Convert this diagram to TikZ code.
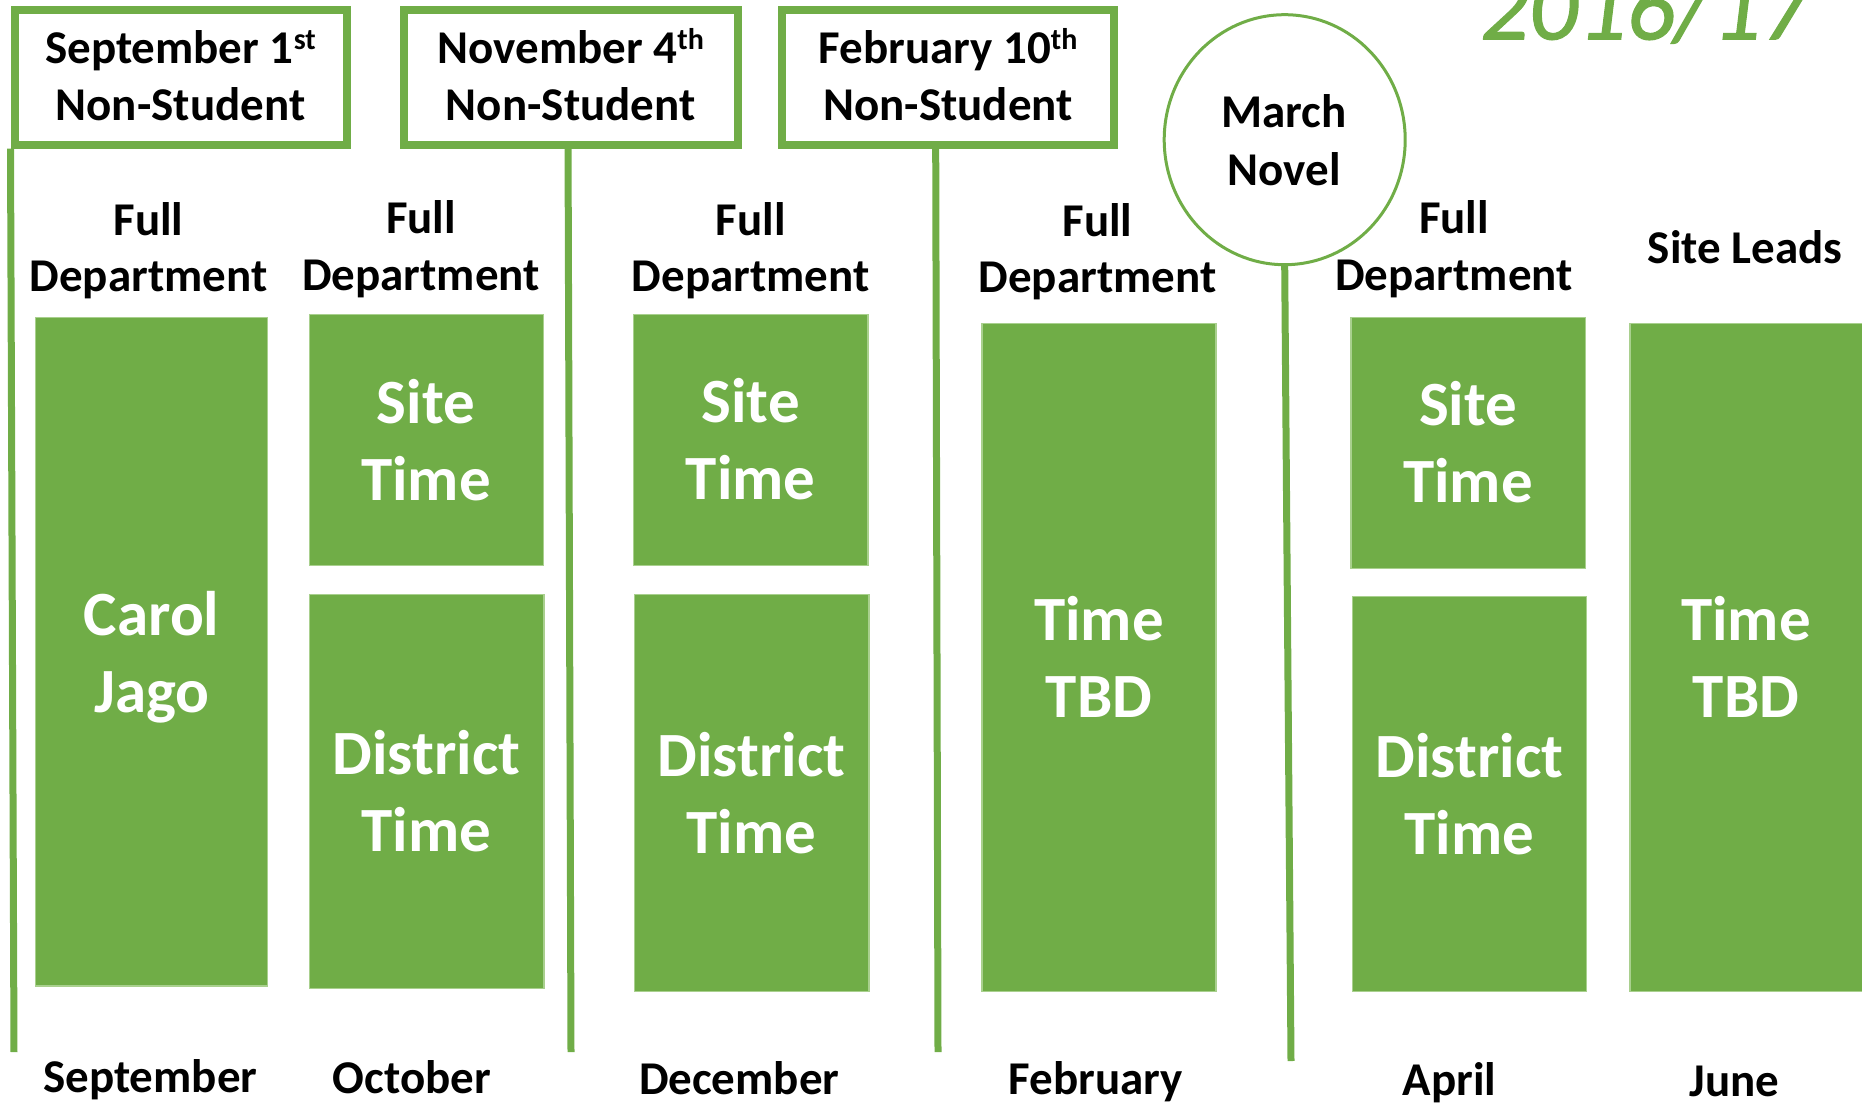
\documentclass[tikz,border=0pt]{standalone}
\usepackage{fontspec}
\setmainfont{Carlito}
\newfontfamily\yearfont{Carlito}[FakeBold=1.2]
\usetikzlibrary{shapes.geometric,calc}
\definecolor{grn}{HTML}{70AD47}
\definecolor{grnedge}{HTML}{A9D08E}
\newcommand{\sups}[1]{\raisebox{14pt}{\fontsize{30}{30}\selectfont #1}}
\begin{document}
\begin{tikzpicture}[x=1pt,y=-1pt,
  lbl/.style={inner sep=0pt, anchor=base, align=center, text=black,
    font=\fontsize{47}{56.7}\selectfont\bfseries},
  big/.style={inner sep=0pt, anchor=base, align=center, text=white,
    font=\fontsize{63}{77}\selectfont\bfseries},
  slot/.style={rectangle, fill=grn, draw=grnedge, line width=1.2pt, inner sep=0pt},
  datebox/.style={rectangle, draw=grn, line width=8pt, inner sep=0pt,
    minimum height=135pt},
  vline/.style={draw=grn, line width=7pt}
]
\useasboundingbox (0,0) rectangle (1862,1103);

% year title
\node[inner sep=0pt, anchor=base, text=grn,
  font=\yearfont\fontsize{96}{96}\selectfont\itshape] (year) at (1645,39.3) {2016/17};

% date boxes
\node[datebox, minimum width=332pt] (b1) at (180.5,77) {};
\node[datebox, minimum width=334.5pt] (b2) at (570.75,77) {};
\node[datebox, minimum width=332.5pt] (b3) at (948,77) {};
% (base anchor = baseline of the last line)
\node[lbl] (b1t) at (180.5,120) {September 1\sups{st}\\Non-Student};
\node[lbl] (b2t) at (570.75,120) {November 4\sups{th}\\Non-Student};
\node[lbl] (b3t) at (948,120) {February 10\sups{th}\\Non-Student};

% March circle
\node[ellipse, draw=grn, line width=3pt, inner sep=0pt,
  minimum width=241pt, minimum height=250pt] (mar) at (1284.7,139.7) {};
\node[lbl, font=\fontsize{47}{58}\selectfont\bfseries] (mart) at (1284,185) {March\\Novel};

% vertical lines
\coordinate (e1) at (14,1052);
\coordinate (e2) at (571,1052);
\coordinate (e3) at (938,1052);
\coordinate (e4) at (1291,1061);
\draw[vline] (b1.south west) -- (e1);
\draw[vline] ($(b2.south)+(-2.7,0)$) -- (e2);
\draw[vline] ($(b3.south)+(-12.3,0)$) -- (e3);
\draw[vline] (mar.south) -- (e4);

% column headers
\node[lbl] (h1) at (148.5,291.7) {Full\\Department};
\node[lbl] (h2) at (421,290) {Full\\Department};
\node[lbl] (h3) at (750.8,291.7) {Full\\Department};
\node[lbl] (h4) at (1097.5,292.7) {Full\\Department};
\node[lbl] (h5) at (1454,290) {Full\\Department};
\node[lbl] (h6) at (1745,263.3) {Site Leads};

% green slots
\node[slot, minimum width=232pt, minimum height=668.3pt] (c1) at (151.7,651.85) {};
\node[slot, minimum width=234.4pt, minimum height=251pt] (c2a) at (426.5,440.2) {};
\node[slot, minimum width=234.7pt, minimum height=394.4pt] (c2b) at (426.65,791.5) {};
\node[slot, minimum width=234.7pt, minimum height=251pt] (c3a) at (750.65,440.2) {};
\node[slot, minimum width=234.7pt, minimum height=397.4pt] (c3b) at (751.65,793) {};
\node[slot, minimum width=234pt, minimum height=668.4pt] (c4) at (1099,657.5) {};
\node[slot, minimum width=234.7pt, minimum height=250.6pt] (c5a) at (1468.35,443) {};
\node[slot, minimum width=234.4pt, minimum height=395pt] (c5b) at (1469.5,794.2) {};
\node[slot, minimum width=234pt, minimum height=668.4pt] (c6) at (1747,657.5) {};

% slot texts (positioned at the baseline of the last line)
\node[big] (c1t) at (151.7,712.7) {Carol\\Jago};
\node[big] (c2at) at (426,500) {Site\\Time};
\node[big] (c2bt) at (426.5,851.7) {District\\Time};
\node[big] (c3at) at (750.7,499.3) {Site\\Time};
\node[big] (c3bt) at (751.5,853) {District\\Time};
\node[big] (c4t) at (1099,717.3) {Time\\TBD};
\node[big] (c5at) at (1468,502.7) {Site\\Time};
\node[big] (c5bt) at (1469.5,854) {District\\Time};
\node[big] (c6t) at (1746,717.3) {Time\\TBD};

% months
\node[lbl] (m1) at (150.3,1092.7) {September};
\node[lbl] (m2) at (412,1093.5) {October};
\node[lbl] (m3) at (739.3,1094) {December};
\node[lbl] (m4) at (1096,1094) {February};
\node[lbl] (m5) at (1449.5,1095) {April};
\node[lbl] (m6) at (1734.6,1096) {June};
\end{tikzpicture}
\end{document}
